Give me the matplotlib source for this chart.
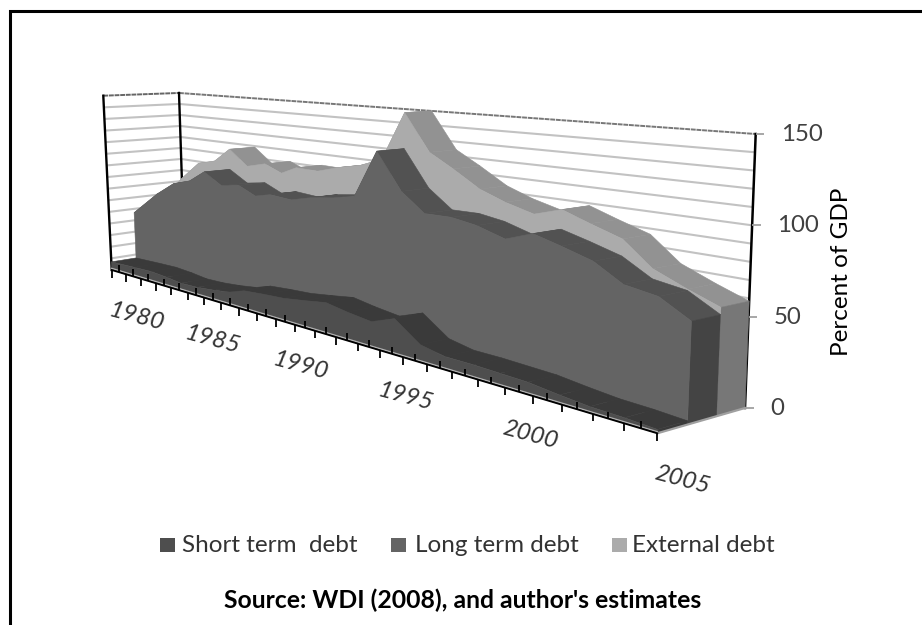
import numpy as np
import matplotlib
matplotlib.use("Agg")
import matplotlib.pyplot as plt
from matplotlib.patches import Polygon, Rectangle

plt.rcParams['font.family'] = ['Lato', 'DejaVu Sans']

# ---- data (percent of GDP) ----
tick_years = list(range(1980, 2006))
label_years = [1980, 1985, 1990, 1995, 2000, 2005]
value_ticks = [0, 50, 100, 150]
sample_years = [1980.0, 1981.6, 1982.7, 1983.7, 1984.6, 1985.6, 1986.6, 1987.5, 1988.3, 1989.4, 1990.4, 1991.5,
                1992.5, 1993.5, 1994.6, 1995.6, 1996.7, 1997.7, 1998.8, 1999.8, 2000.8, 2001.9, 2002.9, 2004.0, 2005.0]
short_term = [7, 8, 8.5, 7.5, 6, 6.5, 8, 10, 14, 15.5, 16.5, 19, 21.5, 19, 17, 23, 11, 8, 8, 7.5, 7, 5, 3.5, 3, 2]
long_term = [46.6, 67, 78.5, 83, 92.4, 83.5, 86, 80, 83, 81.8, 85.8, 88.3, 91.8, 125, 100.1, 87.9, 88.3, 85.8, 80.5, 86.6, 82.1, 76.7, 66.9, 64.1, 54.6]
external = [50, 78, 93.5, 97.5, 109, 97, 101, 95.5, 101.4, 101, 105.7, 109.5, 115.8, 150, 124.4, 115.1, 104.1, 98, 93.2, 98.5, 92.6, 86.6, 72.6, 64.8, 58.5]
series_names = ["Short term  debt", "Long term debt", "External debt"]

# ---- styles: front, top, side ----
shades = [("#4e4e4e", "#3a3a3a", "#3a3a3a"),
          ("#646464", "#525252", "#444444"),
          ("#ababab", "#929292", "#777777")]

# ---- perspective calibration of the box in pixels ----
A, D, C, B = (111.7, 270), (657.3, 433.3), (745, 408), (184.5, 258)
dx1, dx2, sx = D[0]-C[0], B[0]-C[0], A[0]-D[0]+C[0]-B[0]
dy1, dy2, sy = D[1]-C[1], B[1]-C[1], A[1]-D[1]+C[1]-B[1]
den = dx1*dy2 - dx2*dy1
g = (sx*dy2 - dx2*sy)/den
h = (dx1*sy - sx*dy1)/den
a, b = D[0]-A[0]+g*D[0], B[0]-A[0]+h*B[0]
d, e = D[1]-A[1]+g*D[1], B[1]-A[1]+h*B[1]
VMAX = 150.0


def proj(year, depth, value):
    """year axis position, depth 0..1 front to back, value in percent -> pixels"""
    u = (np.asarray(year, float)-1980)/25.0
    v = np.asarray(depth, float)
    w = np.asarray(value, float)/VMAX
    q = 1 + g*u + h*v
    x = (a*u + b*v + A[0])/q
    y = (d*u + e*v + A[1])/q
    s = (174.3 + 12.7*u - 4.5*v + 2.3*u*v)/q
    lean = -8.4 + 19.6*u + 2.9*v - 3.4*u*v
    return x + lean*w, y - s*w


fig = plt.figure(figsize=(9.22, 6.25), dpi=100)
ax = fig.add_axes([0, 0, 1, 1])
ax.set_xlim(0, 922)
ax.set_ylim(625, 0)
ax.axis('off')

# outer frame
ax.plot([10, 10, 922], [625, 11, 11], color='black', lw=2.2, solid_joinstyle='miter')


def seg(y0, v0, w0, y1, v1, w1, **kw):
    p0, p1 = proj(y0, v0, w0), proj(y1, v1, w1)
    ax.plot([p0[0], p1[0]], [p0[1], p1[1]], **kw)


# walls and gridlines
for val in np.arange(10, 150, 10):
    seg(1980, 0, val, 1980, 1, val, color='#c2c2c2', lw=1.5, solid_capstyle='butt', zorder=1)
    seg(1980, 1, val, 2005, 1, val, color='#c2c2c2', lw=1.5, solid_capstyle='butt', zorder=1)
seg(1980, 0, 150, 1980, 1, 150, color='#666666', lw=1.4, ls=(0, (2.5, 0.4)), zorder=1)
seg(1980, 1, 150, 2005, 1, 150, color='#777777', lw=1.4, ls=(0, (2.5, 0.4)), zorder=1)
seg(1980, 0, 0, 1980, 0, 150, color='black', lw=1.7, zorder=1)
seg(1980, 1, 0, 1980, 1, 150, color='black', lw=1.7, zorder=1)
seg(2005, 1, 0, 2005, 1, 150, color='black', lw=1.8, zorder=1)

# slabs, back to front
n = len(short_term)
all_series = [short_term, long_term, external]
z = 2
for k in [2, 1, 0]:
    vals = np.array(all_series[k], float)
    v0, v1 = k/3.0, (k+1)/3.0
    front, top, side = shades[k]
    zero = np.zeros(n)
    for j in range(n-1):
        pts = [proj(sample_years[j], v0, vals[j]), proj(sample_years[j+1], v0, vals[j+1]),
               proj(sample_years[j+1], v1, vals[j+1]), proj(sample_years[j], v1, vals[j])]
        ax.add_patch(Polygon(pts, closed=True, fc=top, ec=top, lw=0.4, zorder=z))
    pts = [proj(2005, v0, 0), proj(2005, v1, 0), proj(2005, v1, vals[-1]), proj(2005, v0, vals[-1])]
    ax.add_patch(Polygon(pts, closed=True, fc=side, ec=side, lw=0.4, zorder=z))
    fx, fy = proj(sample_years, v0, vals)
    bx, by = proj(sample_years, v0, zero)
    pts = np.column_stack([np.r_[fx, bx[::-1]], np.r_[fy, by[::-1]]])
    ax.add_patch(Polygon(pts, closed=True, fc=front, ec=front, lw=0.4, zorder=z+0.5))
    z += 1

# floor edge and axes
seg(2005, 0, 0, 2005, 1, 0, color='#a0a0a0', lw=1.6, zorder=6)
x0, y0 = proj(1980, 0, 0)
x1, y1 = proj(2005, 0, 0)
ax.plot([x0, x1], [y0-1.6, y1-1.6], color='#b0b0b0', lw=1.0, zorder=6)
ax.plot([x0, x1], [y0, y1], color='black', lw=1.3, zorder=7)
for i, yr in enumerate(tick_years):
    tx, ty = proj(yr, 0, 0)
    ax.plot([tx, tx], [ty, ty+7.5], color='black', lw=1.3, solid_capstyle='butt', zorder=7)
    if yr < 2005:
        mx, my = proj(yr+0.5, 0, 0)
        ax.plot([mx, mx], [my-7, my], color='black', lw=1.3, solid_capstyle='butt', zorder=7)
for yr in label_years:
    tx, ty = proj(yr, 0, 0)
    ax.text(tx+25, ty+47, str(yr), rotation=-15, rotation_mode='anchor', ha='center', va='center',
            fontsize=17.5, style='italic', color='#333333')
for val in value_ticks:
    tx, ty = proj(2005, 1, val)
    ax.plot([tx, tx+8.5], [ty, ty], color='#a0a0a0', lw=1.3, solid_capstyle='butt', zorder=6)
    ax.text(tx+25, ty+0.5, str(val), ha='left', va='center', fontsize=17.3, color='#404040')
ax.text(841, 272, "Percent of GDP", rotation=90, ha='center', va='center', fontsize=17.5, color='black')

# legend
swatch_x = [160, 391, 612]
label_x = [182, 415, 632]
for name, sx_, lx, shade in zip(series_names, swatch_x, label_x, shades):
    ax.add_patch(Rectangle((sx_, 538), 15, 14, fc=shade[0], ec='none'))
    ax.text(lx, 545, name, ha='left', va='center', fontsize=17.5, color='#333333')
ax.text(463, 600, "Source: WDI (2008), and author's estimates", ha='center', va='center',
        fontsize=17.8, weight='bold', color='black')

fig.savefig('out.png', dpi=100)
